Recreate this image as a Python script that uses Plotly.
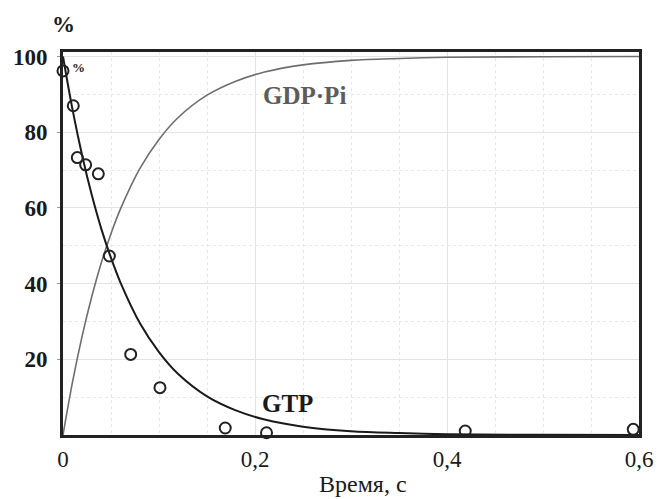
import plotly.graph_objects as go

# Measured points (time, s ; % GTP)
pts_t = [0.0, 0.0107, 0.0149, 0.0236, 0.0368, 0.0483, 0.0705, 0.101, 0.169, 0.212, 0.419, 0.594]
pts_y = [96.2, 87.0, 73.3, 71.4, 69.0, 47.3, 21.3, 12.5, 1.85, 0.6, 1.06, 1.5]

# Fitted curves
curve_t = [0, 0.01, 0.02, 0.03, 0.04, 0.05, 0.06, 0.08, 0.10, 0.12, 0.15, 0.18, 0.21, 0.25, 0.30, 0.35, 0.40, 0.50, 0.60]
gtp_y = [100, 85.9, 73.8, 63.4, 54.4, 46.8, 40.2, 29.6, 21.9, 16.1, 10.2, 6.5, 4.1, 2.2, 1.0, 0.5, 0.2, 0.05, 0.0]
gdp_y = [0, 14.1, 26.2, 36.6, 45.6, 53.2, 59.8, 70.4, 78.1, 83.9, 89.8, 93.5, 95.9, 97.8, 99.0, 99.5, 99.8, 99.95, 100.0]

x_ticks = [0, 0.2, 0.4, 0.6]
x_labels = ["0", "0,2", "0,4", "0,6"]
y_ticks = [20, 40, 60, 80, 100]
y_labels = ["20", "40", "60", "80", "100"]

SERIF = "Liberation Serif, Times New Roman, serif"

fig = go.Figure()
fig.add_trace(go.Scatter(x=curve_t, y=gdp_y, mode="lines", line=dict(color="#6e6e6e", width=1.6, shape="spline"),
                         hoverinfo="skip", showlegend=False))
fig.add_trace(go.Scatter(x=curve_t, y=gtp_y, mode="lines", line=dict(color="#1a1a1a", width=2, shape="spline"),
                         hoverinfo="skip", showlegend=False))
fig.add_trace(go.Scatter(x=pts_t, y=pts_y, mode="markers",
                         marker=dict(symbol="circle-open", size=11, color="#222222", line=dict(width=2, color="#222222")),
                         cliponaxis=False, showlegend=False))

fig.update_layout(
    width=659, height=499,
    margin=dict(l=63, r=20, t=52, b=64),
    plot_bgcolor="white", paper_bgcolor="white",
    font=dict(family=SERIF, color="#1a1a1a"),
    xaxis=dict(range=[0, 0.6], tickvals=x_ticks, ticktext=x_labels, automargin=False,
               tickfont=dict(size=23, family=SERIF, color="#1a1a1a"),
               showline=True, linecolor="#222222", linewidth=3, mirror=True,
               showgrid=True, gridcolor="#e4e4e4", gridwidth=1,
               minor=dict(dtick=0.05, showgrid=True, gridcolor="#e8e8e8", griddash="dot", gridwidth=1),
               zeroline=False, ticks="", ticklabelstandoff=1),
    yaxis=dict(range=[0, 101.2], tickvals=y_ticks, ticktext=y_labels, automargin=False,
               tickfont=dict(size=23, family=SERIF, color="#1a1a1a", weight="bold"),
               showline=True, linecolor="#222222", linewidth=3, mirror=True,
               showgrid=True, gridcolor="#e4e4e4", gridwidth=1,
               minor=dict(dtick=10, showgrid=True, gridcolor="#e8e8e8", griddash="dot", gridwidth=1),
               zeroline=False, ticks="outside", ticklen=3, tickcolor="#999999", ticklabelstandoff=5),
    annotations=[
        dict(text="<b>%</b>", xref="paper", yref="paper", x=0, y=1, yshift=28, xanchor="center", yanchor="middle",
             showarrow=False, font=dict(size=23, family=SERIF, color="#1a1a1a")),
        dict(text="<b>%</b>", x=0.0165, y=97.0, xref="x", yref="y", showarrow=False,
             font=dict(size=13, family=SERIF, color="#1a1a1a")),
        dict(text="<b>GDP·Pi</b>", x=0.252, y=89.8, xref="x", yref="y", showarrow=False,
             font=dict(size=25, family=SERIF, color="#5c5c5c")),
        dict(text="<b>GTP</b>", x=0.234, y=8.3, xref="x", yref="y", showarrow=False,
             font=dict(size=25, family=SERIF, color="#1a1a1a")),
        dict(text="Время, с", xref="paper", yref="paper", x=0.521, y=0, yshift=-49, xanchor="center",
             yanchor="middle", showarrow=False, font=dict(size=24, family=SERIF, color="#1a1a1a")),
    ],
)

fig.write_html("out.html", config={"displayModeBar": False},
               post_script="document.body.style.margin='0';document.documentElement.style.overflow='hidden';")
